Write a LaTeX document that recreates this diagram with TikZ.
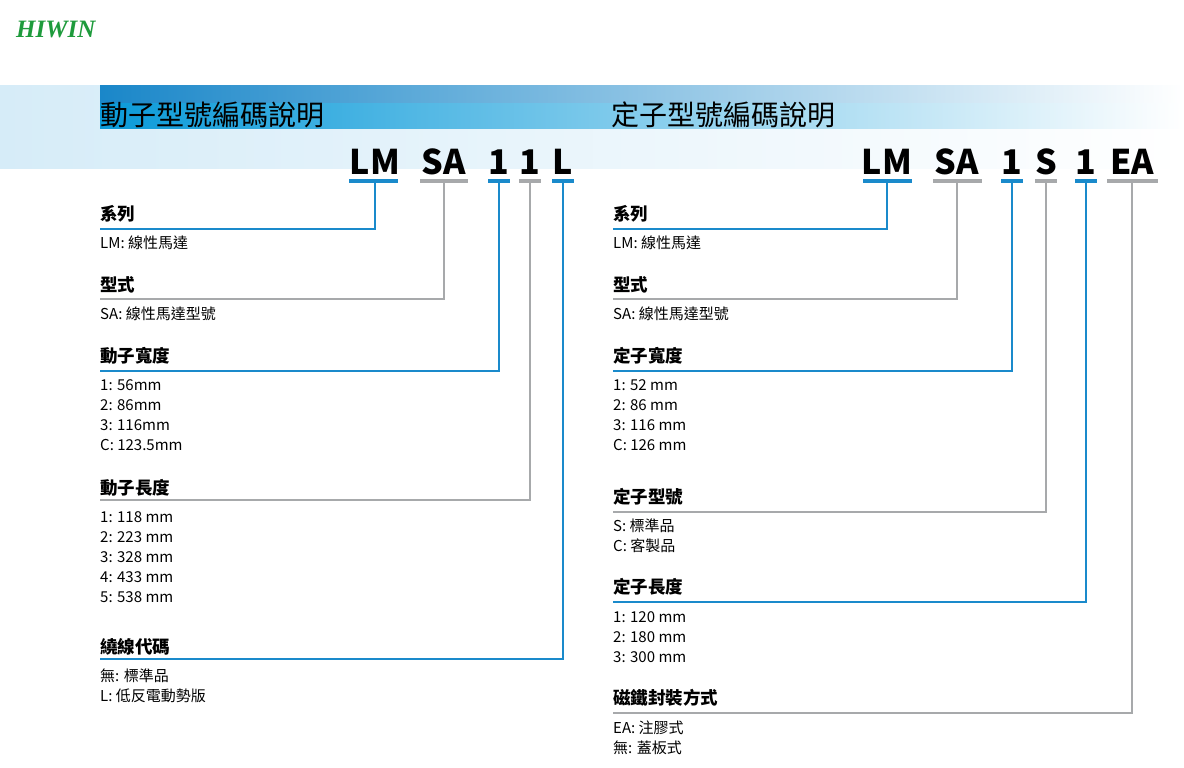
\documentclass[tikz,border=0pt]{standalone}
\usepackage{fontspec}
\setmainfont{Noto Sans CJK TC}
\newfontfamily\logofont{Liberation Serif}
\begin{document}
\begin{tikzpicture}[x=1pt,y=-1pt,
  hd/.style={anchor=base west,font=\fontsize{17.5}{17.5}\selectfont\bfseries,inner sep=0},
  it/.style={anchor=base west,font=\fontsize{15}{15}\selectfont,inner sep=0,align=left},
  code/.style={anchor=base,font=\fontsize{34}{34}\selectfont\bfseries,inner sep=0},
  ttl/.style={anchor=base west,font=\fontsize{28}{28}\selectfont,inner sep=0},
  bl/.style={draw=hwblue,line width=1.2pt},
  gl/.style={draw=hwgray,line width=1.2pt},
  bbar/.style={draw=hwblue,line width=3.5pt},
  gbar/.style={draw=hwgray,line width=3.5pt}]
\definecolor{hwblue}{HTML}{1A8ACB}
\definecolor{hwgray}{HTML}{A7A9AB}
\definecolor{hwgreen}{HTML}{1E9B3C}
\useasboundingbox (0,0) rectangle (1184,768);
\fill[white] (0,0) rectangle (1184,768);
% bands
\shade[left color={rgb,255:red,214;green,236;blue,248},right color=white] (0,86) rectangle (1184,168);
\shade[left color={rgb,255:red,26;green,135;blue,201},right color=white] (100,86) rectangle (1184,103);
\shade[left color={rgb,255:red,10;green,154;blue,217},right color=white] (100,103) rectangle (1184,128);
\node[anchor=base west,inner sep=0,text=hwgreen,font=\logofont\fontsize{25}{25}\selectfont\bfseries\itshape] (logo) at (16,38) {HIWIN};
\node[ttl] (t1) at (100,125) {動子型號編碼說明};
\node[ttl] (t2) at (611,125) {定子型號編碼說明};
% left code
\node[code] (cLM) at (375,174) {LM};
\node[code] (cSA) at (444,174) {SA};
\node[code] (c1a) at (499,174) {1};
\node[code] (c1b) at (530,174) {1};
\node[code] (cL) at (563,174) {L};
\draw[bbar] (349,181) -- (398,181); \draw[gbar] (420,181) -- (468,181);
\draw[bbar] (488,181) -- (510,181); \draw[gbar] (519,181) -- (541,181);
\draw[bbar] (552,181) -- (574,181);
% right code
\node[code] (dLM) at (887,174) {LM};
\node[code] (dSA) at (957,174) {SA};
\node[code] (d1a) at (1012,174) {1};
\node[code] (dS) at (1046,174) {S};
\node[code] (d1b) at (1086,174) {1};
\node[code] (dEA) at (1132,174) {EA};
\draw[bbar] (863,181) -- (912,181); \draw[gbar] (933,181) -- (982,181);
\draw[bbar] (1001,181) -- (1023,181); \draw[gbar] (1035,181) -- (1057,181);
\draw[bbar] (1075,181) -- (1097,181); \draw[gbar] (1107,181) -- (1158,181);
% left rows
\node[hd] (h1) at (100,220) {系列};
\node[it] at (100,248) {LM: 線性馬達};
\draw[bl] (375,183) |- (100,229);
\node[hd] (h2) at (100,291) {型式};
\node[it] at (100,319) {SA: 線性馬達型號};
\draw[gl] (444,183) |- (100,299);
\node[hd] (h3) at (100,362) {動子寬度};
\node[it] at (100,390) {1: 56mm};
\node[it] at (100,410) {2: 86mm};
\node[it] at (100,430) {3: 116mm};
\node[it] at (100,450) {C: 123.5mm};
\draw[bl] (499,183) |- (100,371);
\node[hd] (h4) at (100,494) {動子長度};
\node[it] at (100,522) {1: 118 mm};
\node[it] at (100,542) {2: 223 mm};
\node[it] at (100,562) {3: 328 mm};
\node[it] at (100,582) {4: 433 mm};
\node[it] at (100,602) {5: 538 mm};
\draw[gl] (530,183) |- (100,500);
\node[hd] (h5) at (100,653) {繞線代碼};
\node[it] at (100,681) {無: 標準品};
\node[it] at (100,701) {L: 低反電動勢版};
\draw[bl] (563,183) |- (100,659);
% right rows
\node[hd] (k1) at (613,220) {系列};
\node[it] at (613,248) {LM: 線性馬達};
\draw[bl] (887,183) |- (613,229);
\node[hd] (k2) at (613,291) {型式};
\node[it] at (613,319) {SA: 線性馬達型號};
\draw[gl] (957,183) |- (613,299);
\node[hd] (k3) at (613,362) {定子寬度};
\node[it] at (613,390) {1: 52 mm};
\node[it] at (613,410) {2: 86 mm};
\node[it] at (613,430) {3: 116 mm};
\node[it] at (613,450) {C: 126 mm};
\draw[bl] (1012,183) |- (613,371);
\node[hd] (k4) at (613,503) {定子型號};
\node[it] at (613,531) {S: 標準品};
\node[it] at (613,551) {C: 客製品};
\draw[gl] (1046,183) |- (613,512);
\node[hd] (k5) at (613,593) {定子長度};
\node[it] at (613,622) {1: 120 mm};
\node[it] at (613,642) {2: 180 mm};
\node[it] at (613,662) {3: 300 mm};
\draw[bl] (1086,183) |- (613,602);
\node[hd] (k6) at (613,704) {磁鐵封裝方式};
\node[it] at (613,733) {EA: 注膠式};
\node[it] at (613,753) {無: 蓋板式};
\draw[gl] (1132,183) |- (613,713);
\end{tikzpicture}
\end{document}
